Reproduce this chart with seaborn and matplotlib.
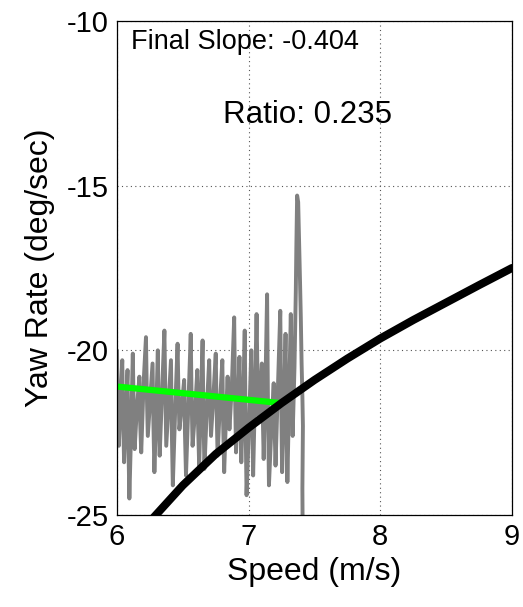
import numpy as np
import pandas as pd
import matplotlib
matplotlib.use("Agg")
import matplotlib.pyplot as plt
import seaborn as sns

trace_speed = [
    6.000, 6.006, 6.014, 6.028, 6.040, 6.046, 6.054, 6.068,
    6.080, 6.086, 6.094, 6.108, 6.120, 6.126, 6.134, 6.152,
    6.170, 6.176, 6.184, 6.202, 6.220, 6.226, 6.234, 6.252,
    6.270, 6.276, 6.284, 6.298, 6.310, 6.316, 6.324, 6.342,
    6.360, 6.366, 6.374, 6.392, 6.410, 6.416, 6.424, 6.442,
    6.460, 6.466, 6.474, 6.492, 6.510, 6.516, 6.524, 6.542,
    6.560, 6.566, 6.574, 6.592, 6.610, 6.616, 6.624, 6.638,
    6.650, 6.656, 6.664, 6.682, 6.700, 6.706, 6.714, 6.732,
    6.750, 6.756, 6.764, 6.782, 6.800, 6.806, 6.814, 6.828,
    6.840, 6.846, 6.854, 6.872, 6.890, 6.896, 6.904, 6.918,
    6.930, 6.936, 6.944, 6.958, 6.970, 6.976, 6.984, 7.004,
    7.020, 7.026, 7.034, 7.048, 7.060, 7.066, 7.074, 7.088,
    7.100, 7.106, 7.114, 7.128, 7.140, 7.146, 7.154, 7.172,
    7.190, 7.196, 7.204, 7.222, 7.240, 7.246, 7.254, 7.268,
    7.280, 7.286, 7.294, 7.308, 7.320, 7.326, 7.334, 7.348,
    7.358, 7.362, 7.368, 7.376, 7.384, 7.390, 7.396, 7.402,
    7.408, 7.412, 7.410, 7.408, 7.410]
trace_yaw = [
    -20.0, -21.6, -22.9, -21.4, -20.3, -22.0, -23.4, -21.8,
    -20.6, -22.7, -24.5, -22.3, -20.1, -21.5, -23.0, -21.7,
    -20.8, -22.2, -23.1, -21.0, -19.6, -21.2, -22.6, -21.5,
    -20.4, -22.1, -23.7, -21.9, -20.0, -21.8, -23.2, -21.3,
    -19.4, -21.0, -22.9, -21.6, -20.3, -22.4, -24.1, -21.8,
    -19.8, -21.1, -22.4, -21.7, -20.9, -22.5, -23.8, -21.6,
    -19.5, -21.3, -22.9, -21.9, -20.6, -22.3, -23.5, -21.5,
    -19.7, -21.8, -23.6, -21.8, -20.3, -21.5, -22.6, -21.4,
    -20.1, -21.7, -23.2, -21.6, -20.3, -22.2, -23.7, -22.0,
    -20.8, -21.6, -22.4, -21.1, -19.0, -21.2, -23.1, -21.7,
    -20.2, -21.9, -23.4, -21.5, -19.4, -22.0, -24.4, -22.1,
    -20.0, -21.9, -23.8, -21.3, -18.9, -20.5, -22.0, -21.2,
    -20.4, -21.8, -23.3, -20.9, -18.3, -21.4, -24.1, -22.4,
    -21.0, -22.2, -23.5, -21.1, -18.8, -21.2, -23.7, -21.8,
    -19.5, -21.7, -24.0, -21.3, -18.9, -20.8, -22.6, -20.5,
    -18.2, -16.9, -15.3, -15.5, -16.8, -17.9, -19.0, -20.4,
    -21.4, -22.3, -23.2, -24.2, -25.5]

# model curve
model_speed = [6.25, 6.50, 6.75, 7.00, 7.25, 7.50, 7.75, 8.00, 8.25, 8.50, 8.75, 9.00]
model_yaw = [-25.2, -24.1, -23.15, -22.35, -21.6, -20.9, -20.25, -19.64, -19.08, -18.55, -18.02, -17.5]

# final slope fit
fit_speed = [6.00, 7.24]
fit_yaw = [-21.1, -21.6]

final_slope = -0.404
ratio = 0.235

sns.set_style("white")
plt.rcParams['font.family'] = ['Liberation Sans', 'DejaVu Sans']
plt.rcParams['axes.unicode_minus'] = False
plt.rcParams['text.color'] = 'black'
plt.rcParams['axes.labelcolor'] = 'black'
plt.rcParams['xtick.color'] = 'black'
plt.rcParams['ytick.color'] = 'black'

fig = plt.figure(figsize=(5.23, 6.07), dpi=100)
ax = fig.add_axes([0.2237, 0.1516, 0.7553, 0.8138])

trace = pd.DataFrame({"speed": trace_speed, "yaw": trace_yaw})
sns.lineplot(data=trace, x="speed", y="yaw", sort=False, estimator=None,
             color="#808080", linewidth=2.8, ax=ax)
sns.lineplot(x=fit_speed, y=fit_yaw, sort=False, estimator=None,
             color="#00ff00", linewidth=4.5, ax=ax)
sns.lineplot(x=model_speed, y=model_yaw, sort=False, estimator=None,
             color="black", linewidth=5.8, ax=ax)

ax.set_xlim(6, 9)
ax.set_ylim(-25, -10)
ax.set_xticks([6, 7, 8, 9])
ax.set_yticks([-25, -20, -15, -10])
ax.grid(True, color="#555555", linestyle=(0, (1, 3)), linewidth=0.8)
ax.tick_params(direction="in", length=4, labelsize=21, width=0.8,
               top=False, right=False, pad=6)
for sp in ax.spines.values():
    sp.set_visible(True)
    sp.set_color("black")
    sp.set_linewidth(0.9)

ax.set_xlabel("Speed (m/s)", fontsize=23, labelpad=4)
ax.set_ylabel("Yaw Rate (deg/sec)", fontsize=23, labelpad=8)

ax.text(0.036, 0.943, f"Final Slope: {final_slope:.3f}", transform=ax.transAxes,
        fontsize=19.5, va="baseline", ha="left")
ax.text(0.268, 0.793, f"Ratio: {ratio:.3f}", transform=ax.transAxes,
        fontsize=22.5, va="baseline", ha="left")

fig.savefig("out.png", dpi=100)
